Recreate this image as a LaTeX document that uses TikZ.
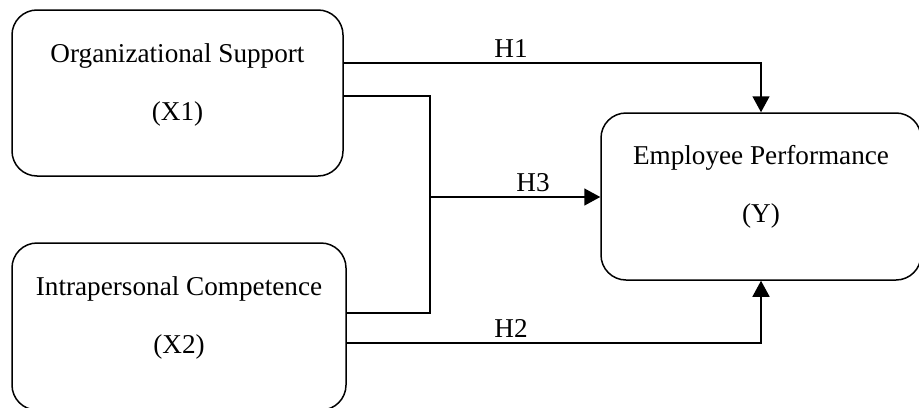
\documentclass[tikz,border=0pt]{standalone}
\usepackage{fontspec}
\setmainfont{Liberation Serif}
\usetikzlibrary{arrows.meta,calc}

\tikzset{
  varbox/.style={draw,line width=0.75pt,rounded corners=12.5pt,inner sep=0pt},
  vartext/.style={align=center,font=\fontsize{13.6}{15}\selectfont},
  hlab/.style={font=\fontsize{13.6}{15}\selectfont,inner sep=0pt},
  link/.style={line width=0.75pt},
  arr/.style={link,-{Triangle[length=8pt,width=8.5pt]}}
}

\begin{document}
\begin{tikzpicture}[x={(0.5pt,0)},y={(0,-0.5pt)}]
  \useasboundingbox (0,0) rectangle (919,407);
  % variables
  \node[varbox,minimum width=165.5pt,minimum height=83pt] (os) at (177.5,93) {};
  \node[varbox,minimum width=167pt,minimum height=83.5pt] (ic) at (179,326.5) {};
  \node[varbox,minimum width=160pt,minimum height=83.5pt] (ep) at (761,196.5) {};
  \node[vartext] (ost) at ($(os)+(0,-8)$) {Organizational Support\\[14pt](X1)};
  \node[vartext] (ict) at ($(ic)+(0,-9)$) {Intrapersonal Competence\\[14pt](X2)};
  \node[vartext] (ept) at ($(ep)+(0,-10)$) {Employee Performance\\[14pt](Y)};
  % paths
  \coordinate (j1) at (430,96);
  \coordinate (j2) at (430,313);
  \coordinate (j) at (430,197);
  \draw[arr] (os.east |- 0,63) -| (ep.north);
  \draw[link] (os.east |- j1) -- (j1) -- (j2) -- (ic.east |- j2);
  \draw[arr] (j) -- (ep.west |- j);
  \draw[arr] (ic.east |- 0,343) -| (ep.south);
  % labels
  \node[hlab] (h1) at (511,49) {H1};
  \node[hlab] (h3) at (533,183) {H3};
  \node[hlab] (h2) at (511,328) {H2};
\end{tikzpicture}
\end{document}
